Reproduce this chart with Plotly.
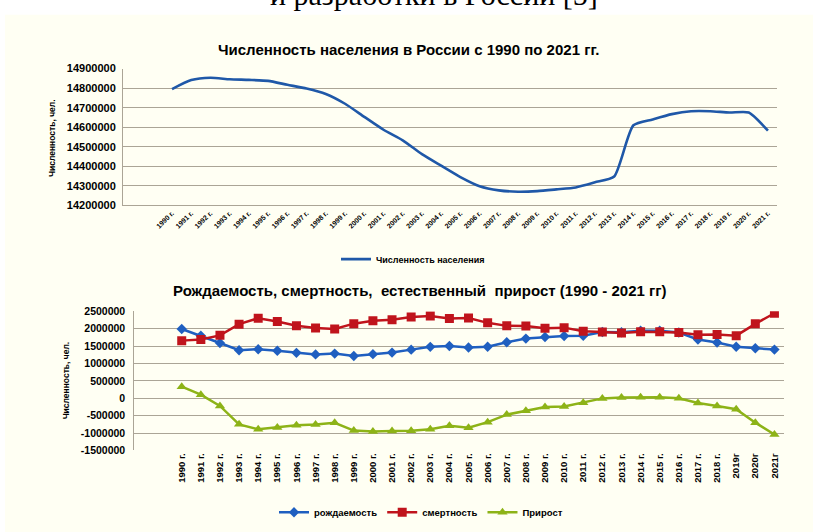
import plotly.graph_objects as go

# Category labels for the two charts
top_labels = [
    "1990 г.", "1991 г.", "1992 г.", "1993 г.", "1994 г.", "1995 г.", "1996 г.", "1997 г.",
    "1998 г.", "1999 г.", "2000 г.", "2001 г.", "2002 г.", "2003 г.", "2004 г.", "2005 г.",
    "2006 г.", "2007 г.", "2008 г.", "2009 г.", "2010 г.", "2011 г.", "2012 г.", "2013 г.",
    "2014 г.", "2015 г.", "2016 г.", "2017 г.", "2018 г.", "2019 г.", "2020 г.", "2021 г.",
]
bottom_labels = [
    "1990 г.", "1991 г.", "1992 г.", "1993 г.", "1994 г.", "1995 г.", "1996 г.", "1997 г.",
    "1998 г.", "1999 г.", "2000 г.", "2001 г.", "2002 г.", "2003 г.", "2004 г.", "2005 г.",
    "2006 г.", "2007 г.", "2008 г.", "2009 г.", "2010 г.", "2011 г.", "2012 г.", "2013 г.",
    "2014 г.", "2015 г.", "2016 г.", "2017 г.", "2018 г.", "2019г", "2020г", "2021г",
]

# Population, persons
population = [
    14795000, 14841000, 14853000, 14845000, 14842000, 14837000, 14817000, 14798000,
    14770000, 14720000, 14653000, 14587000, 14533000, 14462000, 14403000, 14345000,
    14298000, 14277000, 14270000, 14273000, 14282000, 14292000, 14318000, 14348000,
    14610000, 14640000, 14667000, 14682000, 14682000, 14675000, 14675000, 14582000,
]

# Births, deaths and natural growth, persons
births = [
    1990000, 1795000, 1588000, 1379000, 1408000, 1364000, 1305000, 1260000,
    1283000, 1215000, 1267000, 1312000, 1397000, 1477000, 1502000, 1457000,
    1480000, 1610000, 1714000, 1762000, 1789000, 1797000, 1902000, 1896000,
    1943000, 1941000, 1889000, 1690000, 1604000, 1481000, 1437000, 1398000,
]
deaths = [
    1656000, 1691000, 1807000, 2129000, 2301000, 2204000, 2082000, 2016000,
    1989000, 2144000, 2225000, 2255000, 2332000, 2366000, 2295000, 2304000,
    2167000, 2080000, 2076000, 2011000, 2029000, 1926000, 1906000, 1872000,
    1912000, 1909000, 1891000, 1826000, 1829000, 1798000, 2139000, 2442000,
]
growth = [
    333000, 104000, -220000, -750000, -893000, -840000, -778000, -756000,
    -705000, -930000, -959000, -943000, -935000, -889000, -793000, -847000,
    -687000, -470000, -362000, -249000, -240000, -129000, -4000, 24000,
    30000, 32000, -2000, -136000, -224000, -317000, -702000, -1043000,
]

top_ticks = [14200000, 14300000, 14400000, 14500000, 14600000, 14700000, 14800000, 14900000]
bottom_ticks = [-1500000, -1000000, -500000, 0, 500000, 1000000, 1500000, 2000000, 2500000]

W, H = 813, 532
CREAM = "#FFFFF3"
GRID = "#ABA596"
FONT = "Liberation Sans"


def px_x(p):
    return p / W


def px_y(p):
    return (H - p) / H


fig = go.Figure()

fig.add_trace(go.Scatter(
    x=top_labels, y=population, name="Численность населения",
    mode="lines", line=dict(color="#1F58A8", width=2.6, shape="spline", smoothing=0.6),
    xaxis="x", yaxis="y", legend="legend",
))
fig.add_trace(go.Scatter(
    x=bottom_labels, y=births, name="рождаемость",
    mode="lines+markers", line=dict(color="#1F5FC0", width=2.5),
    marker=dict(symbol="diamond", size=8, color="#1F5FC0"),
    xaxis="x2", yaxis="y2", legend="legend2",
))
fig.add_trace(go.Scatter(
    x=bottom_labels, y=deaths, name="смертность",
    mode="lines+markers", line=dict(color="#C0141C", width=2.5),
    marker=dict(symbol="square", size=9, color="#C0141C"),
    xaxis="x2", yaxis="y2", legend="legend2",
))
fig.add_trace(go.Scatter(
    x=bottom_labels, y=growth, name="Прирост",
    mode="lines+markers", line=dict(color="#8DB317", width=2.5),
    marker=dict(symbol="triangle-up", size=9, color="#8DB317"),
    xaxis="x2", yaxis="y2", legend="legend2",
))

fig.update_layout(
    width=W, height=H,
    margin=dict(l=0, r=0, t=0, b=0),
    paper_bgcolor=CREAM, plot_bgcolor=CREAM,
    font=dict(family=FONT, color="black"),
    xaxis=dict(
        domain=[px_x(123), px_x(777)], anchor="y", type="category",
        range=[-2.55, 31.47], showgrid=False, ticks="", tickangle=-45,
        tickfont=dict(family=FONT, size=7, color="black", weight="bold"),
        showline=True, linecolor=GRID, linewidth=1,
    ),
    yaxis=dict(
        domain=[px_y(204), px_y(64)], anchor="x", range=[14200000, 14900000],
        tickvals=top_ticks, ticktext=[str(v) for v in top_ticks],
        tickfont=dict(family=FONT, size=11, color="black", weight="bold"),
        ticklabelstandoff=4,
        showgrid=True, gridcolor=GRID, gridwidth=1.2, zeroline=False,
        showline=True, linecolor=GRID, linewidth=1,
    ),
    xaxis2=dict(
        domain=[px_x(134.3), px_x(784)], anchor="y2", type="category",
        range=[-2.48, 31.5], showgrid=False, ticks="", tickangle=-90,
        tickfont=dict(family=FONT, size=9.5, color="black", weight="bold"),
        showline=False,
    ),
    yaxis2=dict(
        domain=[px_y(454.7), px_y(312.3)], anchor="x2", range=[-1500000, 2500000],
        tickvals=bottom_ticks, ticktext=[str(v) for v in bottom_ticks],
        tickfont=dict(family=FONT, size=10.5, color="black", weight="bold"),
        ticklabelstandoff=6,
        showgrid=True, gridcolor=GRID, gridwidth=1.2, zeroline=False,
        showline=True, linecolor=GRID, linewidth=1,
    ),
    legend=dict(
        x=px_x(413), y=px_y(259), xanchor="center", yanchor="middle",
        orientation="h", bgcolor="rgba(0,0,0,0)", itemwidth=30,
        font=dict(family=FONT, size=9, color="black", weight="bold"),
    ),
    legend2=dict(
        x=px_x(421), y=px_y(518), xanchor="center", yanchor="middle",
        orientation="h", bgcolor="rgba(0,0,0,0)", itemwidth=30,
        font=dict(family=FONT, size=9.5, color="black", weight="bold"),
    ),
    showlegend=True,
)

# White page strip above and left of the chart area
fig.add_shape(type="rect", xref="paper", yref="paper", x0=-0.05, x1=1.05,
              y0=px_y(9), y1=1.05, fillcolor="white", line_width=0, layer="below")
fig.add_shape(type="rect", xref="paper", yref="paper", x0=-0.05, x1=px_x(5),
              y0=-0.05, y1=1.05, fillcolor="white", line_width=0, layer="below")

# Caption text of the page, running off the top edge
fig.add_annotation(
    text="и разработки в России [5]", xref="paper", yref="paper",
    x=px_x(434), y=px_y(7), xanchor="center", yanchor="bottom", showarrow=False,
    font=dict(family="Liberation Serif", size=30, color="black"),
)

# Chart titles
fig.add_annotation(
    text="<b>Численность населения в России с 1990 по 2021 гг.</b>",
    xref="paper", yref="paper", x=px_x(408), y=px_y(44),
    xanchor="center", yanchor="middle", showarrow=False,
    font=dict(family=FONT, size=15, color="black"),
)
fig.add_annotation(
    text="<b>Рождаемость, смертность,  естественный  прирост (1990 - 2021 гг)</b>",
    xref="paper", yref="paper", x=px_x(420), y=px_y(291),
    xanchor="center", yanchor="middle", showarrow=False,
    font=dict(family=FONT, size=15, color="black"),
)

# Axis titles
fig.add_annotation(
    text="<b>Численность, чел.</b>", xref="paper", yref="paper",
    x=px_x(52), y=px_y(135), xanchor="center", yanchor="middle",
    textangle=-90, showarrow=False, font=dict(family=FONT, size=8.5, color="black"),
)
fig.add_annotation(
    text="<b>Численность, чел.</b>", xref="paper", yref="paper",
    x=px_x(66), y=px_y(383), xanchor="center", yanchor="middle",
    textangle=-90, showarrow=False, font=dict(family=FONT, size=8.5, color="black"),
)

fig.write_html("out.html")
